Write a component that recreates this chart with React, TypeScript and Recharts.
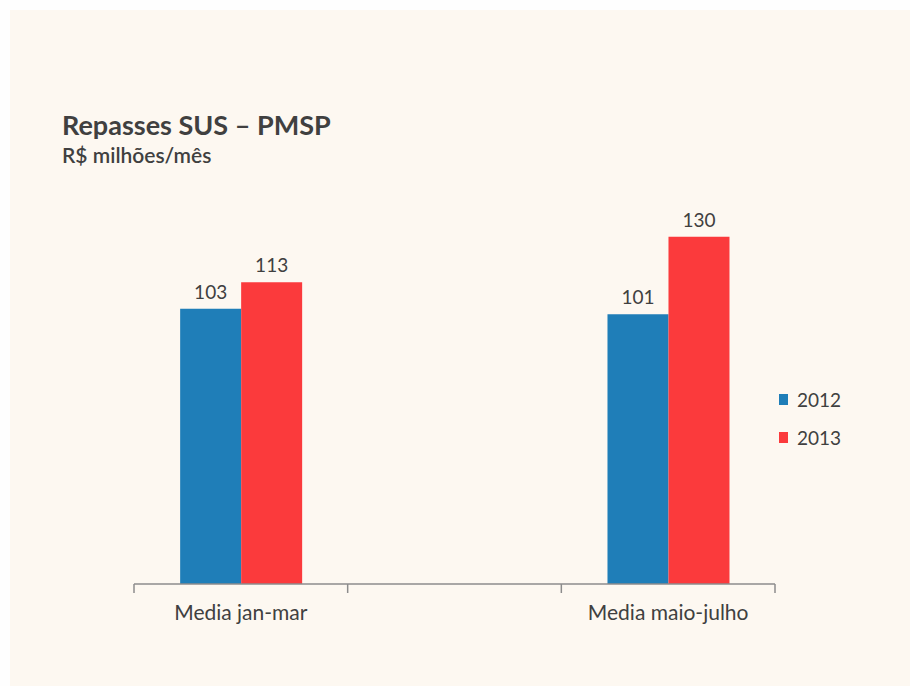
import React from 'react';
import { BarChart, Bar, XAxis, YAxis, LabelList } from 'recharts';

const categories = ['Media jan-mar', '', 'Media maio-julho'];
const series2012 = [103, null, 101];
const series2013 = [113, null, 130];
const seriesNames = ['2012', '2013'];
const boundaryTicks = [-0.5, 0.5, 1.5, 2.5];

const data = categories.map((c, i) => ({ name: c, idx: i, v2012: series2012[i], v2013: series2013[i] }));

const BLUE = '#1f7eb8';
const RED = '#fb3a3c';
const TEXT = '#404040';
const FONT = 'Lato, "Open Sans", sans-serif';
const colors = [BLUE, RED];

export default function App() {
  return (
    <div style={{ position: 'absolute', left: 0, top: 0, width: 910, height: 686, background: '#fefefe', overflow: 'hidden' }}>
      <div style={{ position: 'absolute', left: 10, top: 10, width: 900, height: 676, background: '#fdf8f1' }} />
      <div style={{ position: 'absolute', left: 62, top: 108, fontFamily: FONT, fontWeight: 700, fontSize: 27, color: TEXT, whiteSpace: 'nowrap' }}>
        Repasses SUS – PMSP
      </div>
      <div style={{ position: 'absolute', left: 62, top: 142, fontFamily: FONT, fontWeight: 600, fontSize: 21, color: TEXT, whiteSpace: 'nowrap' }}>
        R$ milhões/mês
      </div>
      <div style={{ position: 'absolute', left: 779, top: 380, fontFamily: FONT, fontSize: 19, color: TEXT }}>
        {seriesNames.map((n, i) => (
          <div key={n} style={{ display: 'flex', alignItems: 'center', height: 38 }}>
            <span style={{ display: 'inline-block', width: 9, height: 11, background: colors[i], marginRight: 9 }} />
            <span>{n}</span>
          </div>
        ))}
      </div>
      <div style={{ position: 'absolute', left: 0, top: 0 }}>
        <BarChart
          width={910}
          height={686}
          data={data}
          margin={{ top: 210, right: 135, bottom: 61, left: 134 }}
          barCategoryGap="21.6%"
          barGap={0}
        >
          <XAxis
            xAxisId="a"
            type="number"
            dataKey="idx"
            domain={[-0.5, 2.5]}
            ticks={boundaryTicks}
            allowDataOverflow
            interval={0}
            height={1}
            tick={() => <g />}
            tickSize={9}
            axisLine={{ stroke: '#8c8c8c', strokeWidth: 1.5 }}
            tickLine={{ stroke: '#8c8c8c', strokeWidth: 1.5 }}
          />
          <XAxis
            xAxisId="b"
            dataKey="name"
            height={40}
            axisLine={false}
            tickLine={false}
            tickSize={0}
            tickMargin={20}
            interval={0}
            tick={{ fontFamily: FONT, fontSize: 21, fill: TEXT }}
          />
          <YAxis hide domain={[0, 140]} />
          <Bar xAxisId="b" dataKey="v2012" name={seriesNames[0]} fill={BLUE} isAnimationActive={false}>
            <LabelList dataKey="v2012" position="top" offset={10} style={{ fontFamily: FONT, fontSize: 19, fill: TEXT }} />
          </Bar>
          <Bar xAxisId="b" dataKey="v2013" name={seriesNames[1]} fill={RED} isAnimationActive={false}>
            <LabelList dataKey="v2013" position="top" offset={10} style={{ fontFamily: FONT, fontSize: 19, fill: TEXT }} />
          </Bar>
        </BarChart>
      </div>
    </div>
  );
}
